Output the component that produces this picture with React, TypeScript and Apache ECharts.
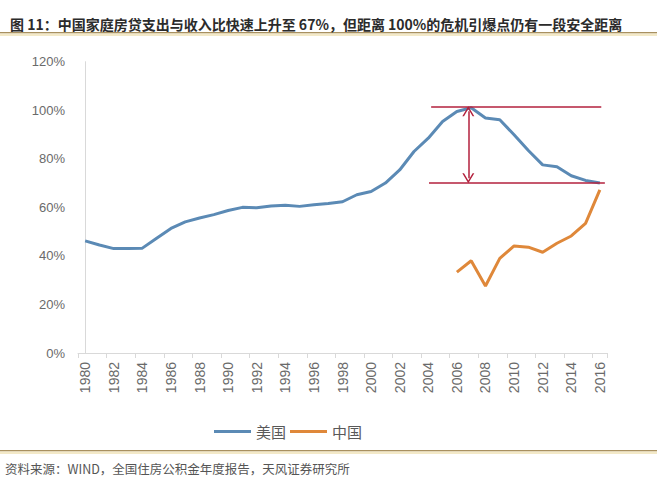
import React, { useEffect, useRef } from "react";
import * as echarts from "echarts";

const years: string[] = [
  "1980","1981","1982","1983","1984","1985","1986","1987","1988","1989",
  "1990","1991","1992","1993","1994","1995","1996","1997","1998","1999",
  "2000","2001","2002","2003","2004","2005","2006","2007","2008","2009",
  "2010","2011","2012","2013","2014","2015","2016",
];

const usValues: number[] = [
  46.2, 44.5, 43.0, 43.0, 43.2, 47.3, 51.3, 54.0, 55.6, 57.0,
  58.7, 60.0, 59.8, 60.6, 60.9, 60.4, 61.1, 61.6, 62.3, 65.2,
  66.5, 70.0, 75.4, 83.0, 88.5, 95.4, 99.5, 101.0, 96.8, 96.1,
  89.9, 83.4, 77.5, 76.7, 73.0, 71.1, 70.0,
];

const cnValues: (number | null)[] = [
  null, null, null, null, null, null, null, null, null, null,
  null, null, null, null, null, null, null, null, null, null,
  null, null, null, null, null, null, 33.3, 38.0, 27.6, 39.0,
  44.1, 43.6, 41.5, 45.2, 48.2, 53.4, 67.2,
];

const seriesNames: string[] = ["美国", "中国"];
const yTicks = { min: 0, max: 120, interval: 20 };

// annotation: peak level and current level (in % units), x extents in category index units
const peakLevel = 101.6;
const currentLevel = 70.0;
const peakLineX: [number, number] = [24.2, 36.1];
const currentLineX: [number, number] = [24.05, 36.35];
const arrowX = 26.8;
const arrowInset = 2.0; // symbols are centred on the end points

const titleText =
  "图 11：中国家庭房贷支出与收入比快速上升至 67%，但距离 100%的危机引爆点仍有一段安全距离";
const sourceText = "资料来源：WIND，全国住房公积金年度报告，天风证券研究所";

const BLUE = "#5b8ab5";
const ORANGE = "#df883a";
const RED = "#b3203c";
const AXIS = "#d9d9d9";
const LABEL = "#6a6a6a";
const CJK = '"Noto Sans CJK SC", "Noto Sans", sans-serif';
const LATIN = '"Liberation Sans", Arial, sans-serif';

const chevron = "path://M0,10 L5,0 L10,10 L8.6,10 L5,2.8 L1.4,10 Z";

export default function App() {
  const ref = useRef<HTMLDivElement>(null);

  useEffect(() => {
    if (!ref.current) return;
    const chart = echarts.init(ref.current, null, { renderer: "svg" });
    const option: any = {
      animation: false,
      backgroundColor: "#ffffff",
      title: {
        text: titleText,
        left: 5,
        top: 12,
        textStyle: { fontSize: 14, fontWeight: "bold", color: "#2b2b2b", fontFamily: CJK },
      },
      graphic: [
        { type: "rect", left: 0, top: 32, shape: { width: 657, height: 1.5 }, style: { fill: "#a89060" }, silent: true },
        { type: "rect", left: 0, top: 33.5, shape: { width: 657, height: 2.5 }, style: { fill: "#f3e9c8" }, silent: true },
        { type: "rect", left: 0, top: 450, shape: { width: 657, height: 1.5 }, style: { fill: "#a89060" }, silent: true },
        { type: "rect", left: 0, top: 451.5, shape: { width: 657, height: 2.5 }, style: { fill: "#f3e9c8" }, silent: true },
        {
          type: "text",
          left: 5,
          top: 462,
          style: { text: sourceText, fontSize: 12.5, fill: "#555555", fontFamily: CJK },
          silent: true,
        },
      ],
      legend: {
        left: 209,
        top: 419,
        icon: "rect",
        itemWidth: 37,
        itemHeight: 3,
        itemGap: 4,
        data: seriesNames,
        textStyle: { fontSize: 15, color: "#595959", fontFamily: CJK },
      },
      grid: { left: 78, right: 50, top: 61.7, bottom: 127 },
      xAxis: [
        {
          type: "category",
          data: years,
          boundaryGap: true,
          axisLine: { show: true, lineStyle: { color: AXIS, width: 1 } },
          axisTick: { show: true, interval: 1, length: 5, lineStyle: { color: AXIS } },
          axisLabel: {
            interval: 1,
            rotate: 90,
            margin: 9,
            fontSize: 14,
            color: LABEL,
            fontFamily: LATIN,
          },
          splitLine: { show: false },
        },
        {
          type: "value",
          min: -0.5,
          max: 36.5,
          show: false,
          splitLine: { show: false },
        },
      ],
      yAxis: {
        type: "value",
        min: yTicks.min,
        max: yTicks.max,
        interval: yTicks.interval,
        axisLine: { show: true, lineStyle: { color: AXIS, width: 1 } },
        axisTick: { show: false },
        axisLabel: { formatter: "{value}%", fontSize: 13, color: LABEL, margin: 13, fontFamily: LATIN },
        splitLine: { show: false },
      },
      series: [
        {
          name: seriesNames[0],
          type: "line",
          data: usValues,
          symbol: "none",
          lineStyle: { width: 3, color: BLUE },
          itemStyle: { color: BLUE },
          z: 3,
        },
        {
          name: seriesNames[1],
          type: "line",
          data: cnValues,
          symbol: "none",
          connectNulls: false,
          lineStyle: { width: 3, color: ORANGE },
          itemStyle: { color: ORANGE },
          z: 3,
        },
        {
          type: "line",
          xAxisIndex: 1,
          data: [],
          silent: true,
          z: 4,
          markLine: {
            silent: true,
            symbol: ["none", "none"],
            label: { show: false },
            lineStyle: { color: RED, width: 1.5, type: "solid" },
            emphasis: { disabled: true },
            data: [
              [{ coord: [peakLineX[0], peakLevel] }, { coord: [peakLineX[1], peakLevel] }],
              [{ coord: [currentLineX[0], currentLevel] }, { coord: [currentLineX[1], currentLevel] }],
            ],
          },
        },
        {
          type: "line",
          xAxisIndex: 1,
          data: [],
          silent: true,
          z: 4,
          markLine: {
            silent: true,
            symbol: [chevron, chevron],
            symbolSize: [12, 10],
            label: { show: false },
            lineStyle: { color: RED, width: 1.5, type: "solid" },
            emphasis: { disabled: true },
            data: [[
              { coord: [arrowX, peakLevel - arrowInset] },
              { coord: [arrowX, currentLevel + arrowInset] },
            ]],
          },
        },
      ],
    };
    chart.setOption(option);
    return () => chart.dispose();
  }, []);

  return (
    <div
      ref={ref}
      style={{ position: "absolute", left: 0, top: 0, width: 657, height: 480 }}
    />
  );
}
